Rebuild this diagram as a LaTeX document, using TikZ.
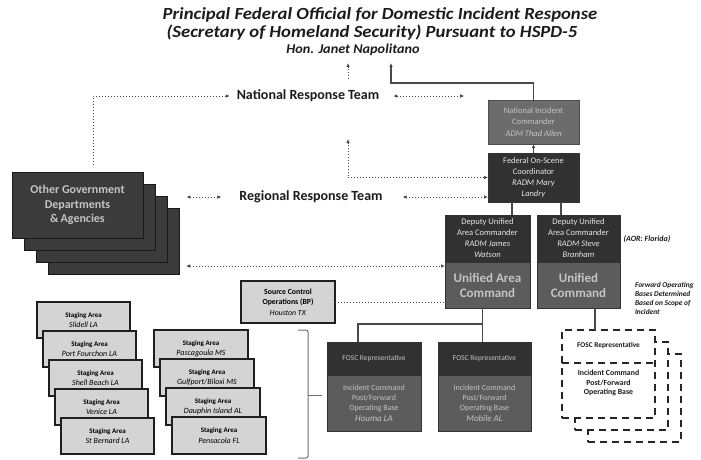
\documentclass[tikz,border=0pt]{standalone}
\usepackage{fontspec}
\setmainfont{Carlito}
\usetikzlibrary{arrows.meta}

\definecolor{boxdark}{HTML}{313131}
\definecolor{boxmid}{HTML}{5c5c5c}
\definecolor{boxnic}{HTML}{6c6c6c}
\definecolor{boxlight}{HTML}{d4d4d4}
\definecolor{txtlight}{HTML}{c4c4c4}
\definecolor{txtwhite}{HTML}{e6e6e6}
\definecolor{inkgray}{HTML}{4a4a4a}
\definecolor{titleink}{HTML}{1c1c1c}

\tikzset{
  every node/.style={inner sep=0pt, outer sep=0pt},
  solidline/.style={draw=inkgray, line width=1.1pt},
  solidarr/.style={solidline, -{Latex[length=4pt,width=3.6pt]}},
  dotline/.style={draw=inkgray, line width=1pt, dash pattern=on 1.2pt off 1.8pt},
  dotarr/.style={dotline, -{Latex[length=4pt,width=3.6pt]}},
  dotboth/.style={dotline, {Latex[length=4pt,width=3.6pt]}-{Latex[length=4pt,width=3.6pt]}},
  titletext/.style={text=titleink, xscale=1.1, font=\fontsize{17}{20}\selectfont\bfseries\itshape},
  teamtext/.style={text=titleink, font=\fontsize{14}{17}\selectfont\bfseries},
  darkbox/.style={draw=black!80, line width=0.8pt, fill=boxdark, text=txtwhite, align=center,
    font=\fontsize{8.5}{11}\selectfont},
  midbox/.style={draw=black!80, line width=0.8pt, fill=boxmid, text=txtlight, align=center},
  nicbox/.style={draw=black!70, line width=0.8pt, fill=boxnic, text=txtlight, align=center,
    font=\fontsize{8.5}{11.5}\selectfont},
  ogbox/.style={draw=black!90, line width=0.8pt, fill=boxdark!95!white, minimum width=131pt,
    minimum height=66pt, text=txtlight, align=center, font=\fontsize{12}{14.5}\selectfont\bfseries},
  stagebox/.style={draw=black!88, line width=1.6pt, fill=boxlight, align=center,
    font=\fontsize{8}{10.5}\selectfont},
  dashbox/.style={draw=black!85, line width=1.4pt, dash pattern=on 7pt off 5pt, fill=white,
    minimum width=93pt, minimum height=88pt},
  smallnote/.style={text=titleink, font=\fontsize{7.5}{9}\selectfont\bfseries\itshape},
}

\newcommand{\stagetext}[1]{{\fontsize{7}{9}\selectfont\bfseries Staging Area}\\{\itshape #1}}

\begin{document}
\begin{tikzpicture}[x=1pt,y=-1pt]
\useasboundingbox[fill=white] (0,0) rectangle (701,460);

% ---------- heading ----------
\node[titletext] (title1) at (380,15) {Principal Federal Official for Domestic Incident Response};
\node[titletext] (title2) at (372,33) {(Secretary of Homeland Security) Pursuant to HSPD-5};
\node[titletext, xscale=0.96, font=\fontsize{13.5}{16}\selectfont\bfseries\itshape] (title3) at (353,50) {Hon. Janet Napolitano};
\coordinate (tA) at (348,63);
\coordinate (tAs) at (348,79);
\coordinate (tB) at (391,63);
\coordinate (tC) at (348,139);

% ---------- command chain ----------
\node[nicbox, minimum width=91pt, minimum height=44pt] (nic) at (533.5,122)
  {National Incident\\Commander\\\textit{ADM Thad Allen}};
\node[darkbox, minimum width=91pt, minimum height=49pt] (fosc) at (533.5,177.5)
  {Federal On-Scene\\Coordinator\\\textit{RADM Mary}\\\textit{Landry}};

\node[darkbox, minimum width=85pt, minimum height=47pt] (dep1) at (487.5,238.5)
  {Deputy Unified\\Area Commander\\\textit{RADM James}\\\textit{Watson}};
\node[midbox, minimum width=85pt, minimum height=46pt, font=\fontsize{13}{15}\selectfont\bfseries] (uac1) at (487.5,285)
  {Unified Area\\Command};
\node[darkbox, minimum width=83pt, minimum height=47pt] (dep2) at (578.5,238.5)
  {Deputy Unified\\Area Commander\\\textit{RADM Steve}\\\textit{Branham}};
\node[midbox, minimum width=83pt, minimum height=46pt, font=\fontsize{13}{15}\selectfont\bfseries] (uac2) at (578.5,285)
  {Unified\\Command};
\node[smallnote, font=\fontsize{8}{10}\selectfont\bfseries\itshape] (aor) at (647,239) {(AOR: Florida)};
\node[smallnote, font=\fontsize{7.4}{9}\selectfont\bfseries\itshape, align=left, anchor=west] (fwd) at (635,298)
  {Forward Operating\\Bases Determined\\Based on Scope of\\Incident};

% ---------- response teams ----------
\node[teamtext] (nrt) at (308,96) {National Response Team};
\node[teamtext] (rrt) at (311,197) {Regional Response Team};

% ---------- other government stack ----------
\node[ogbox] (og4) at (113.5,241) {};
\node[ogbox] (og3) at (101.5,229) {};
\node[ogbox] (og2) at (89.5,217) {};
\node[ogbox] (og1) at (77.5,205) {Other Government\\Departments\\\&\,Agencies};

% ---------- source control ----------
\node[stagebox, minimum width=94pt, minimum height=42pt, font=\fontsize{7.8}{10.3}\selectfont] (sc) at (288,302)
  {\textbf{Source Control}\\\textbf{Operations (BP)}\\\textit{Houston TX}};

% ---------- staging areas ----------
\begin{scope}[every node/.append style={stagebox, minimum width=93pt, minimum height=36pt}]
\node (sa1) at (83.5,320) {\stagetext{Slidell LA}};
\node (sa2) at (89.5,349) {\stagetext{Port Fourchon LA}};
\node (sa3) at (95.5,378) {\stagetext{Shell Beach LA}};
\node (sa4) at (101.5,407) {\stagetext{Venice LA}};
\node (sa5) at (107.5,436) {\stagetext{St Bernard LA}};
\end{scope}
\begin{scope}[every node/.append style={stagebox, minimum width=94pt, minimum height=37pt}]
\node (sb1) at (201,348.5) {\stagetext{Pascagoula MS}};
\node (sb2) at (207,377.5) {\stagetext{Gulfport/Biloxi MS}};
\node (sb3) at (213,406.5) {\stagetext{Dauphin Island AL}};
\node (sb4) at (219,435.5) {\stagetext{Pensacola FL}};
\end{scope}

% bracket gathering the staging areas
\draw[draw=inkgray!80, line width=1pt, rounded corners=2pt]
  (298,330) -- (308,330) -- (308,458) -- (298,458);
\draw[draw=inkgray!80, line width=1pt] (308,395) -- (322,395);

% ---------- FOSC representatives ----------
\node[darkbox, minimum width=94pt, minimum height=33pt, text=txtlight, font=\fontsize{7.5}{10}\selectfont] (rep1t) at (374,358.5) {FOSC Representative};
\node[midbox, minimum width=94pt, minimum height=56pt, font=\fontsize{8}{10}\selectfont] (rep1b) at (374,403)
  {Incident Command\\Post/Forward\\Operating Base\\[1.5pt]{\fontsize{9}{10}\selectfont\itshape Houma LA}};
\node[darkbox, minimum width=93pt, minimum height=33pt, text=txtlight, font=\fontsize{7.5}{10}\selectfont] (rep2t) at (484.5,358.5) {FOSC Representative};
\node[midbox, minimum width=93pt, minimum height=56pt, font=\fontsize{8}{10}\selectfont] (rep2b) at (484.5,403)
  {Incident Command\\Post/Forward\\Operating Base\\[1.5pt]{\fontsize{9}{10}\selectfont\itshape Mobile AL}};

% ---------- forward operating bases (to be determined) ----------
\node[dashbox] (d3) at (634.5,398) {};
\node[dashbox] (d2) at (621.5,386) {};
\node[dashbox] (d1) at (608.5,374) {};
\node[font=\fontsize{7.3}{9}\selectfont\bfseries, text=titleink] (d1a) at (608.5,346) {FOSC Representative};
\draw[draw=black!85, line width=1.4pt, dash pattern=on 7pt off 5pt] (d1.west |- 0,363) coordinate (dsepl) -- (d1.east |- dsepl);
\node[font=\fontsize{7.8}{9.6}\selectfont\bfseries, text=titleink, align=center] (d1b) at (608.5,383)
  {Incident Command\\Post/Forward\\Operating Base};

% ---------- connectors ----------
\draw[dotarr] (tAs) -- (tA);
\draw[solidarr] (nic.north) -- ++(0,-17) -| (tB);
\draw[solidarr] (fosc.north) -- (nic.south);
\draw[dotarr, shorten >=7pt] ([xshift=15.5pt,yshift=7pt]og1.north) |- (nrt.west);
\draw[dotboth] ([xshift=14pt]nrt.east) -- ++(71,0);
\draw[dotboth] ([xshift=-53pt]rrt.west) -- ([xshift=-18pt]rrt.west);
\draw[dotboth] ([xshift=20pt]rrt.east) -- (fosc.west |- rrt.east);
\draw[dotboth] (fosc.west) -| (tC);
\draw[dotboth] ([xshift=7pt,yshift=8pt]og4.south east) -- ([yshift=-4pt]uac1.north west);
\draw[dotline] (sc.east) -- (sc.east -| uac1.west);
\draw[solidline] ([xshift=24.5pt]dep1.north) -- ([xshift=24.5pt]dep1.north |- fosc.south);
\draw[solidline] ([xshift=-17.5pt]dep2.north) -- ([xshift=-17.5pt]dep2.north |- fosc.south);
\draw[solidline] ([xshift=16.5pt]uac2.south) -- ([xshift=16.5pt]uac2.south |- d1.north);
\draw[solidline] ([xshift=-5pt]uac1.south) -- ([xshift=-5pt]uac1.south |- rep2t.north);
\draw[solidline] ([xshift=-16pt]rep1t.north) |- ([xshift=-5pt,yshift=-16pt]uac1.south);
\end{tikzpicture}
\end{document}
